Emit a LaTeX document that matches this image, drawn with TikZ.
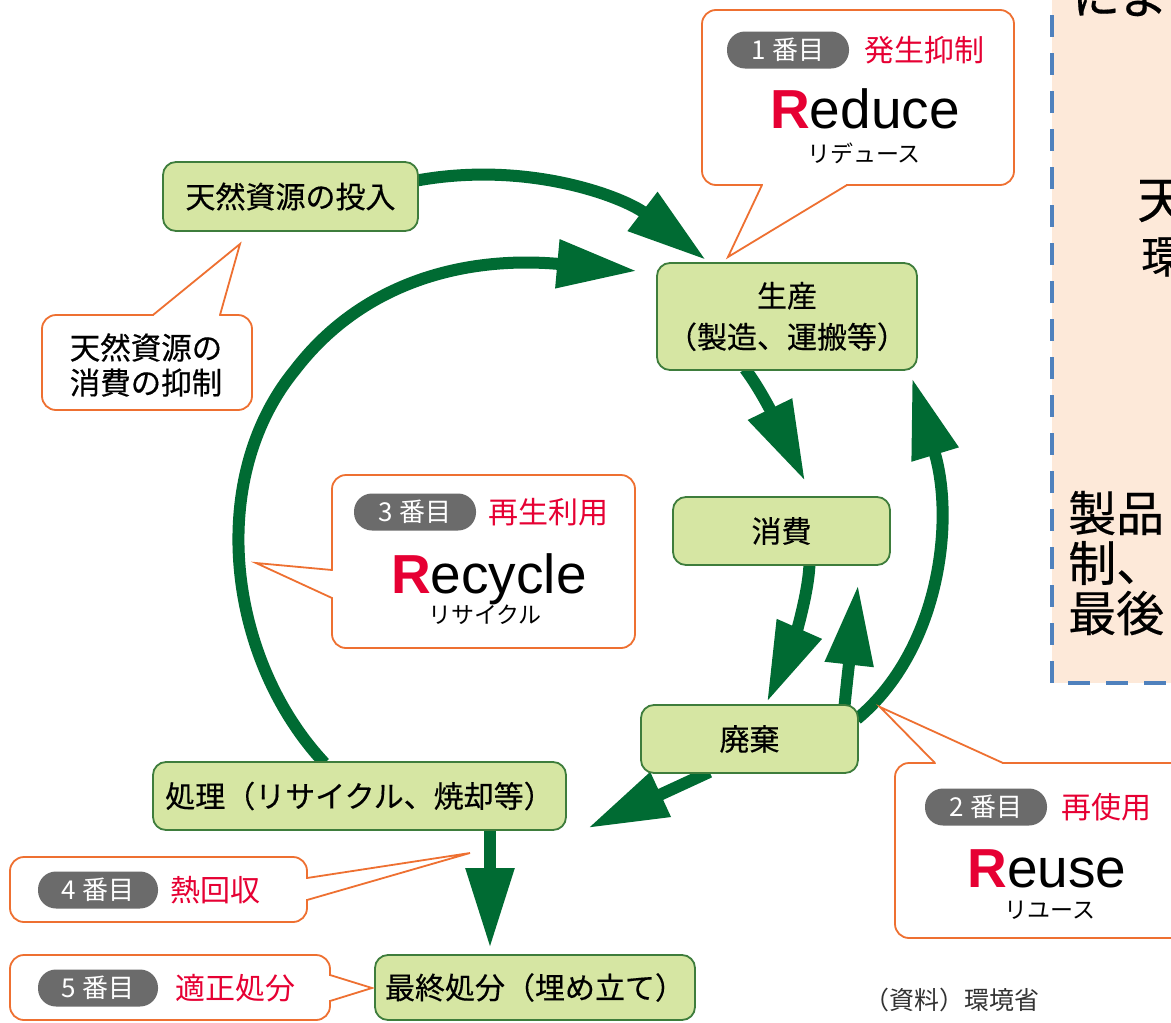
\documentclass[tikz,border=0pt]{standalone}
\usepackage{fontspec}
\setmainfont{Liberation Sans}
\newfontfamily\jp{Noto Sans CJK JP}
\newfontfamily\jpb{Noto Sans CJK JP}[FakeBold=0.4]
\usetikzlibrary{arrows.meta,calc,backgrounds}
\definecolor{gfill}{HTML}{D6E6A3}
\definecolor{gline}{HTML}{3E7D3C}
\definecolor{arr}{HTML}{006B33}
\definecolor{org}{HTML}{EE7031}
\definecolor{rd}{HTML}{E60033}
\definecolor{pillc}{HTML}{6B6B6B}
\definecolor{peach}{HTML}{FDE9D9}
\definecolor{dblue}{HTML}{4F81BD}
\definecolor{srcc}{HTML}{333333}
\begin{document}
\begin{tikzpicture}[x=1pt,y=-1pt,
  gbox/.style={draw=gline, line width=1.8pt, fill=gfill, rounded corners=13pt,
    inner sep=0pt, align=center, font=\jpb\fontsize{30}{41}\selectfont},
  co/.style={draw=org, line width=1.8pt, fill=white, rounded corners=14pt},
  tail/.style={draw=org, line width=1.8pt, line join=miter},
  pillbox/.style={fill=pillc, rounded corners=18pt, text=white, inner sep=0pt,
    minimum height=37pt, minimum width=122pt, font=\jp\fontsize{26}{26}\selectfont},
  redtxt/.style={text=rd, inner sep=0pt, font=\jp\fontsize{30}{30}\selectfont},
  bigword/.style={anchor=base, inner sep=0pt, font=\fontsize{55}{55}\selectfont},
  kana/.style={inner sep=0pt, font=\jp\fontsize{23}{23}\selectfont},
  blacktxt/.style={inner sep=0pt, align=center, font=\jpb\fontsize{30.5}{35}\selectfont},
  edgetxt/.style={anchor=west, inner sep=0pt, font=\jpb\fontsize{48}{48}\selectfont},
  flow/.style={draw=arr, line width=12pt, -{Triangle[length=80pt,width=46pt]}}
]
\useasboundingbox (0,0) rectangle (1171,1023);

% ---------- right, cropped dashed box ----------
\begin{scope}
  \clip (1030,-5) rectangle (1171,700);
  \fill[peach] (1052,-30) rectangle (1190,683);
  \draw[dblue, line width=4pt, dash pattern=on 22pt off 16pt] (1052,-23) -- (1052,683) -- (1190,683);
  \node[edgetxt, anchor=base west] (k1) at (1072,14) {によ};
  \node[edgetxt, font=\jpb\fontsize{50}{50}\selectfont] (k2) at (1137,201) {天};
  \node[edgetxt, font=\jpb\fontsize{44}{44}\selectfont] (k3) at (1141,257) {環};
  \node[edgetxt] (k4) at (1068,513) {製品};
  \node[edgetxt] (k5) at (1068,563) {制、};
  \node[edgetxt] (k6) at (1068,613) {最後};
\end{scope}

% ---------- flow boxes ----------
\node[gbox, minimum width=255, minimum height=69] (input) at (290.5,196.5) {天然資源の投入};
\node[gbox, minimum width=260, minimum height=107] (prod) at (787,316.5) {生産\\（製造、運搬等）};
\node[gbox, minimum width=217, minimum height=68] (cons) at (781.5,531) {消費};
\node[gbox, minimum width=217, minimum height=68] (waste) at (749.5,739) {廃棄};
\node[gbox, minimum width=413, minimum height=68] (treat) at (359.5,796) {処理（リサイクル、焼却等）};
\node[gbox, minimum width=320, minimum height=65] (final) at (535,987.5) {最終処分（埋め立て）};

% ---------- arrows (behind boxes) ----------
\coordinate (t1) at (706,260);
\coordinate (t2) at (637,271);
\coordinate (t3) at (805,481);
\coordinate (t4) at (767,702);
\coordinate (t5) at (858,585);
\coordinate (t6) at (912,378);
\coordinate (t7) at (588,828);
\coordinate (t8) at (490,948);
\begin{pgfonlayer}{background}
  \fill[white] (0,0) rectangle (1171,1023);
  \draw[flow] ($(input.east)+(-2,-16)$) .. controls (530,160) and (625,198) .. (t1);
  \draw[flow] ($(treat.north)+(-35,2)$) .. controls (228,660) and (205,480) .. (295,370)
              .. controls (360,285) and (460,255) .. (t2);
  \draw[flow] ($(prod.south)+(-42,-2)$) .. controls (765,395) and (785,440) .. (t3);
  \draw[flow] ($(cons.south)+(28,-2)$) .. controls (808,600) and (790,650) .. (t4);
  \draw[flow] ($(waste.north)+(95,2)$) .. controls (848,670) and (853,630) .. (t5);
  \draw[flow] ($(waste.east)+(-2,-20)$) .. controls (940,650) and (955,520) .. (t6);
  \draw[flow] ($(waste.south)+(-40,-2)$) -- (t7);
  \draw[flow] ($(treat.south)+(130.5,-2)$) -- (t8);
\end{pgfonlayer}

% ---------- callout: Reduce ----------
\draw[co] (702,10) rectangle (1014,185);
\fill[white] (762,185) -- (728,257) -- (847,185) -- cycle;
\fill[white] (763,182) rectangle (846,188);
\draw[tail] (762,185) -- (728,257) -- (847,185);
\node[pillbox] (p1) at (788,50) {1 番目};
\node[redtxt] (r1) at (924,50) {発生抑制};
\node[bigword] (w1) at (865,128) {\textcolor{rd}{\bfseries R}educe};
\node[kana] (k1a) at (864,153) {リデュース};

% ---------- callout: 天然資源の消費の抑制 ----------
\draw[co] (42,315) rectangle (252,410);
\fill[white] (153,315) -- (240,244) -- (220,315) -- cycle;
\fill[white] (154,312) rectangle (219,318);
\draw[tail] (153,315) -- (240,244) -- (220,315);
\node[blacktxt] (c0) at (146,365) {天然資源の\\消費の抑制};

% ---------- callout: Recycle ----------
\draw[co] (332,475) rectangle (635,648);
\fill[white] (332,570) -- (256,563) -- (332,598) -- cycle;
\fill[white] (329,571) rectangle (335,597);
\draw[tail] (332,570) -- (256,563) -- (332,598);
\node[pillbox] (p3) at (415,512) {3 番目};
\node[redtxt] (r3) at (548,512) {再生利用};
\node[bigword] (w3) at (489,593) {\textcolor{rd}{\bfseries R}ecycle};
\node[kana] (k3a) at (485,615) {リサイクル};

% ---------- callout: Reuse ----------
\draw[co] (895,763) rectangle (1195,938);
\fill[white] (935,763) -- (880,707) -- (1003,763) -- cycle;
\fill[white] (936,760) rectangle (1002,766);
\draw[tail] (935,763) -- (880,707) -- (1003,763);
\node[pillbox] (p2) at (986,807) {2 番目};
\node[redtxt] (r2) at (1106,807) {再使用};
\node[bigword] (w2) at (1047,887) {\textcolor{rd}{\bfseries R}euse};
\node[kana] (k2a) at (1050,910) {リユース};

% ---------- callout: 4番目 ----------
\draw[co] (10,857) rectangle (307,922);
\fill[white] (307,878) -- (470,853) -- (307,900) -- cycle;
\fill[white] (304,879) rectangle (310,899);
\draw[tail] (307,878) -- (470,853) -- (307,900);
\node[pillbox, minimum width=120pt] (p4) at (98,890) {4 番目};
\node[redtxt] (r4) at (215,890) {熱回収};

% ---------- callout: 5番目 ----------
\draw[co] (10,955) rectangle (330,1020);
\fill[white] (330,975) -- (372,988) -- (330,1001) -- cycle;
\fill[white] (327,976) rectangle (333,1000);
\draw[tail] (330,975) -- (372,988) -- (330,1001);
\node[pillbox, minimum width=120pt] (p5) at (98,988) {5 番目};
\node[redtxt] (r5) at (235,988) {適正処分};

% ---------- source ----------
\node[inner sep=0pt, text=srcc, font=\jp\fontsize{25}{25}\selectfont] (src) at (952,1000) {（資料）環境省};
\end{tikzpicture}
\end{document}
